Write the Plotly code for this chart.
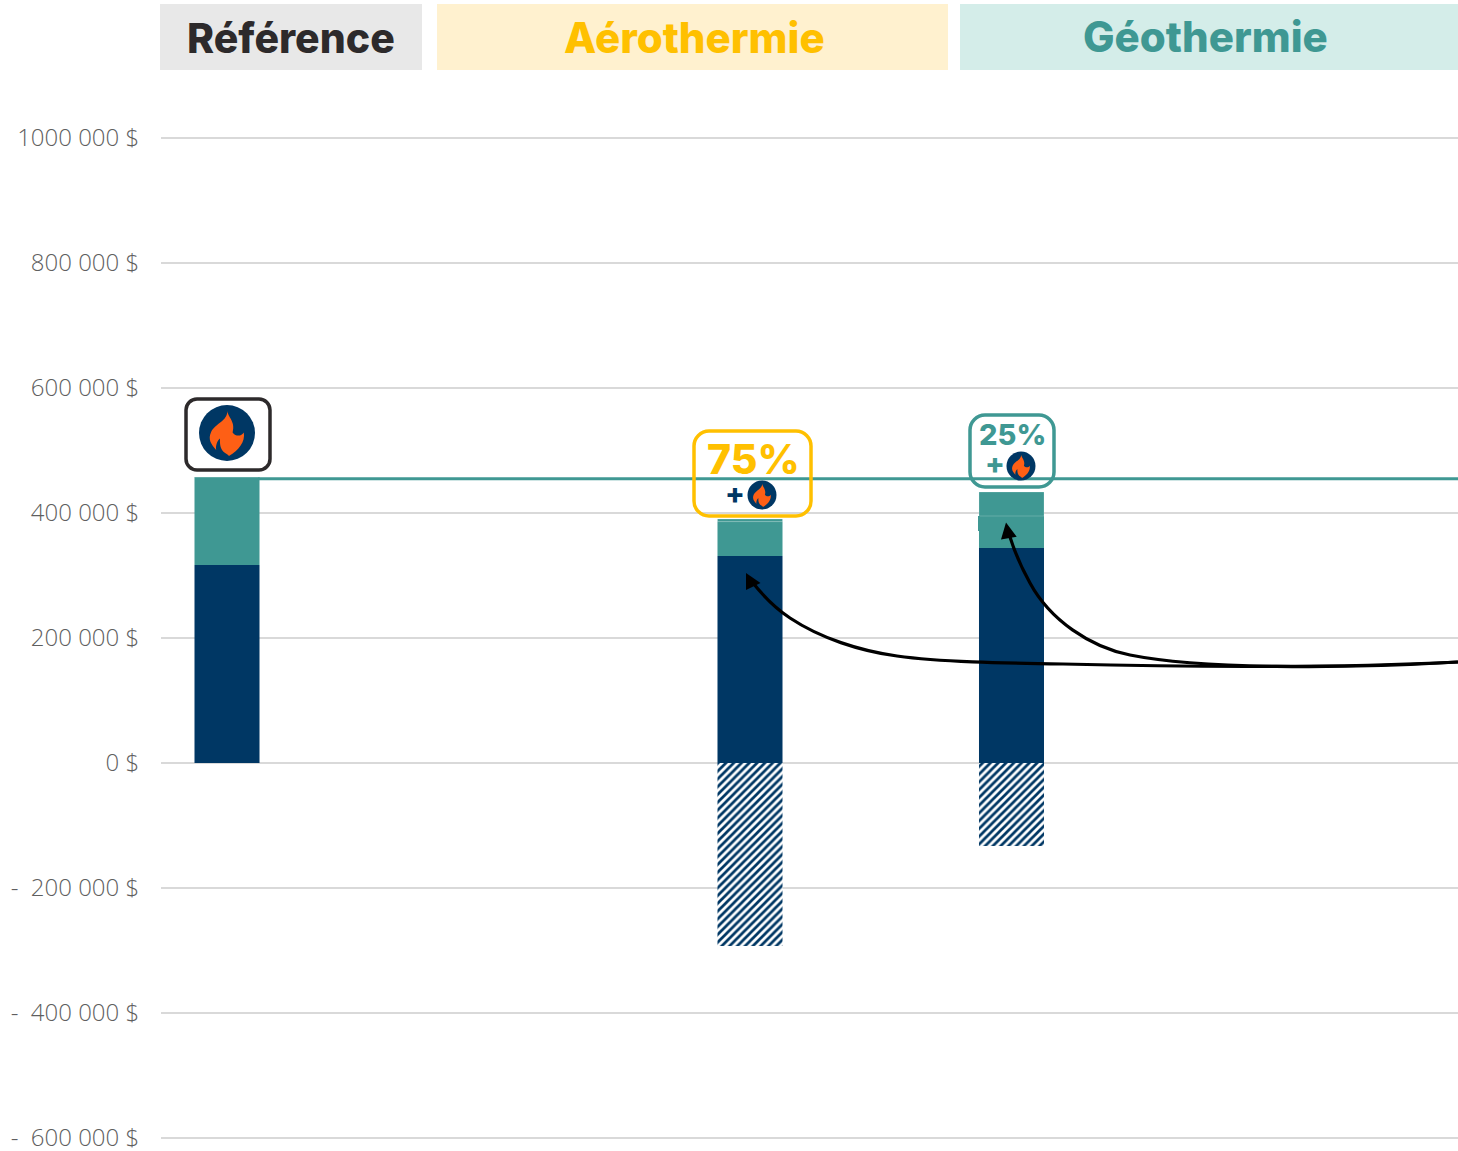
import plotly.graph_objects as go

W, H = 1458, 1151
L, R, T, B = 161, 1458, 130, 1146
Y_ZERO, PX_PER_VALUE = 763, 625 / 1000000

# Data
positions = [0, 2, 3]
categories = ["Référence", "Aérothermie", "Géothermie"]
navy_values = [316800, 331200, 344000]
teal_values = [140800, 55000, 51200]
teal_top_values = [0, 4200, 38400]
hatched_values = [0, -292800, -132800]
reference_line_x = [0.12, 4.7075]
reference_line_y = [455000, 455000]
tick_values = [1000000, 800000, 600000, 400000, 200000, 0, -200000, -400000, -600000]
tick_labels = ["1000 000 $", "800 000 $", "600 000 $", "400 000 $", "200 000 $", "0 $",
               "-  200 000 $", "-  400 000 $", "-  600 000 $"]

NAVY, TEAL, YELLOW, DARK, ORANGE = "#003764", "#3f9893", "#ffc000", "#2d2a2b", "#fe5f15"
GRID, TICK = "#d9d9d9", "#5f5f5f"
HEAD_FONT = "Inter"

def px(x):
    return (x - L) / (R - L)

def py(y):
    return (B - y) / (B - T)

def P(x, y):
    return f"{px(x):.5f},{py(y):.5f}"

def path_shape(d, **kw):
    return dict(type="path", xref="paper", yref="paper", path=d, layer="above", **kw)

def rect(x0, y0, x1, y1, color):
    return dict(type="rect", xref="paper", yref="paper", x0=px(x0), x1=px(x1), y0=py(y0), y1=py(y1),
                fillcolor=color, line=dict(width=0), layer="above")

def round_box(x0, y0, x1, y1, r, color, w=3.5):
    k = 0.45 * r
    d = (f"M {P(x0+r,y0)} L {P(x1-r,y0)} C {P(x1-k,y0)} {P(x1,y0+k)} {P(x1,y0+r)} "
         f"L {P(x1,y1-r)} C {P(x1,y1-k)} {P(x1-k,y1)} {P(x1-r,y1)} "
         f"L {P(x0+r,y1)} C {P(x0+k,y1)} {P(x0,y1-k)} {P(x0,y1-r)} "
         f"L {P(x0,y0+r)} C {P(x0,y0+k)} {P(x0+k,y0)} {P(x0+r,y0)} Z")
    return path_shape(d, line=dict(color=color, width=w))

def flame_icon(cx, cy, r):
    s = [dict(type="circle", xref="paper", yref="paper", x0=px(cx-r), x1=px(cx+r),
              y0=py(cy+r), y1=py(cy-r), fillcolor=NAVY, line=dict(width=0), layer="above")]
    def Q(u, v):
        return P(cx + u*r, cy + v*r)
    d = (f"M {Q(0.02,-0.80)} C {Q(0.00,-0.58)} {Q(0.32,-0.42)} {Q(0.20,-0.02)} "
         f"C {Q(0.32,0.14)} {Q(0.52,0.12)} {Q(0.60,-0.02)} "
         f"C {Q(0.66,0.30)} {Q(0.42,0.62)} {Q(0.07,0.82)} "
         f"C {Q(-0.02,0.70)} {Q(-0.28,0.72)} {Q(-0.25,0.20)} "
         f"C {Q(-0.36,0.28)} {Q(-0.42,0.50)} {Q(-0.38,0.62)} "
         f"C {Q(-0.56,0.40)} {Q(-0.70,0.25)} {Q(-0.56,-0.05)} "
         f"C {Q(-0.40,-0.35)} {Q(0.00,-0.40)} {Q(0.02,-0.80)} Z")
    s.append(path_shape(d, fillcolor=ORANGE, line=dict(width=0)))
    return s

def arrow(d_points, tip, base_l, base_r):
    d = "M " + P(*d_points[0])
    for i in range(1, len(d_points), 3):
        d += f" C {P(*d_points[i])} {P(*d_points[i+1])} {P(*d_points[i+2])}"
    return [path_shape(d, line=dict(color="black", width=3.2)),
            path_shape(f"M {P(*tip)} L {P(*base_l)} L {P(*base_r)} Z", fillcolor="black", line=dict(width=0))]

fig = go.Figure()
fig.add_bar(x=positions, y=navy_values, name="navy", marker=dict(color=NAVY, line=dict(width=0)))
fig.add_bar(x=positions, y=teal_values, name="teal", marker=dict(color=TEAL, line=dict(width=0)))
fig.add_bar(x=positions, y=teal_top_values, name="teal top",
            marker=dict(color=TEAL, line=dict(width=1, color="rgba(255,255,255,0.2)")))
fig.add_bar(x=positions, y=hatched_values, name="hatched",
            marker=dict(color="white", line=dict(width=0),
                        pattern=dict(shape="/", size=5.5, solidity=0.5, fgcolor=NAVY, bgcolor="white", fgopacity=1)))
fig.update_traces(width=0.2486)
fig.add_scatter(x=reference_line_x, y=reference_line_y, mode="lines", line=dict(color=TEAL, width=3))

shapes = [rect(160, 4, 422, 70, "#e8e8e8"), rect(437, 4, 948, 70, "#fff1cf"), rect(960, 4, 1458, 70, "#d4ede9"),
          rect(978, 516, 980, 531, TEAL)]
shapes += [round_box(186, 399, 270, 470, 11, DARK), round_box(694, 431, 811, 516, 15, YELLOW),
           round_box(970, 415, 1054, 487, 15, TEAL)]
shapes += flame_icon(227, 433, 28) + flame_icon(762, 495, 14.5) + flame_icon(1021, 466, 14.5)
shapes += arrow([(1458, 662), (1330, 668), (1180, 667), (1063, 664), (1000, 663), (940, 662), (897, 656),
                 (860, 651), (820, 638), (790, 618), (778, 610), (765, 598), (753, 583)],
                (746, 573), (746, 590), (760.5, 583))
shapes += arrow([(1458, 662), (1340, 669), (1200, 669), (1130, 655), (1090, 647), (1050, 620), (1030, 583),
                 (1020, 565), (1014, 550), (1010, 537)],
                (1006, 522.5), (1001, 539.5), (1016.7, 536.7))

def text(x, y, s, size, color):
    return dict(xref="paper", yref="paper", x=px(x), y=py(y), text=s, showarrow=False,
                xanchor="center", yanchor="middle",
                font=dict(family=HEAD_FONT, size=size, color=color, weight=800))

annotations = [text(291, 38, categories[0], 41, DARK), text(694, 38, categories[1], 42, YELLOW),
               text(1205, 37, categories[2], 42, TEAL), text(753, 459, "75%", 41, YELLOW),
               text(1012, 434, "25%", 29, TEAL), text(735, 493, "+", 29, NAVY), text(995, 464, "+", 29, TEAL)]

y_top = (Y_ZERO - T) / PX_PER_VALUE
y_bottom = (Y_ZERO - B) / PX_PER_VALUE

fig.update_layout(
    width=W, height=H, autosize=False, barmode="relative", showlegend=False,
    paper_bgcolor="white", plot_bgcolor="white",
    margin=dict(l=L, r=W-R, t=T, b=H-B, autoexpand=False),
    shapes=shapes, annotations=annotations,
    xaxis=dict(range=[-0.2524, 4.7075], visible=False),
    yaxis=dict(range=[y_bottom, y_top], tickmode="array", tickvals=tick_values, ticktext=tick_labels,
               showgrid=True, gridcolor=GRID, gridwidth=2, zeroline=True, zerolinecolor=GRID, zerolinewidth=2,
               showline=False, ticks="outside", ticklen=16, tickcolor="rgba(0,0,0,0)", ticklabeloverflow="allow",
               tickfont=dict(family="Open Sans", size=24, color=TICK, weight=300)),
)
fig.write_html("out.html", config={"displayModeBar": False},
               post_script="document.body.style.margin='0';document.body.style.overflow='hidden';")
